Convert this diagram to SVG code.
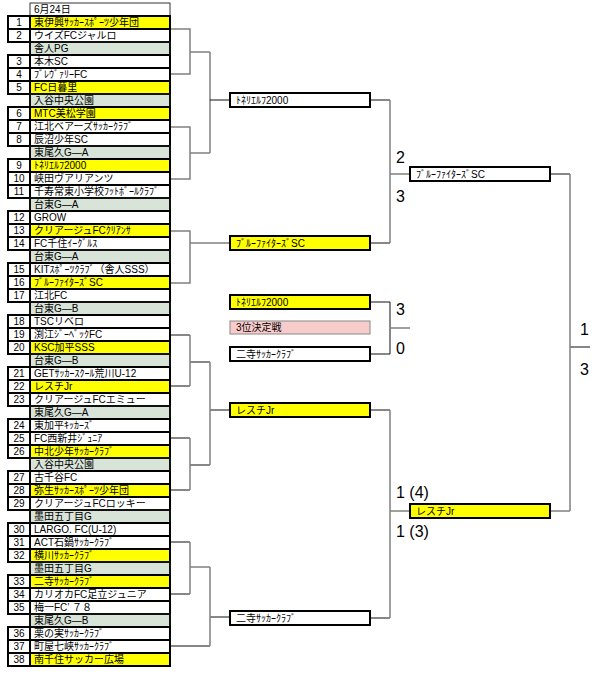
<svg xmlns="http://www.w3.org/2000/svg" width="600" height="674" viewBox="0 0 600 674">
<style>
.n{fill:#fff;stroke:#000;stroke-width:2}
.w{fill:#fff;stroke:#000;stroke-width:2}
.y{fill:#ffff00;stroke:#000;stroke-width:2}
.gr{fill:#d8e4d8;stroke:#111;stroke-width:2}
.hd{fill:#fff;stroke:#333;stroke-width:1}
.pk{fill:#f9cccc;stroke:#888;stroke-width:1}
text{font-family:"Liberation Sans","Noto Sans CJK JP",sans-serif;font-size:10px;fill:#000}
.num{text-anchor:middle}
.sc{font-family:"Liberation Sans",sans-serif;font-size:16px}
.lg{fill:none;stroke:#808080;stroke-width:1.5}
.lk{fill:none;stroke:#111;stroke-width:1}
</style>
<rect width="600" height="674" fill="#fff"/>
<g id="table">
<g id="hdr"><rect class="hd" x="30" y="3" width="140" height="13"/><text x="34" y="13">6月24日</text></g>
<g id="t1"><rect class="n" x="8" y="16" width="22" height="13"/><rect class="y" x="30" y="16" width="140" height="13"/><text class="num" x="19" y="26">1</text><text x="34" y="26">東伊興ｻｯｶｰｽﾎﾟｰﾂ少年団</text></g>
<g id="t2"><rect class="n" x="8" y="29" width="22" height="13"/><rect class="w" x="30" y="29" width="140" height="13"/><text class="num" x="19" y="39">2</text><text x="34" y="39">ウイズFCジャルロ</text></g>
<g id="g1"><rect class="gr" x="30" y="42" width="140" height="13"/><text x="34" y="52">舎人PG</text></g>
<g id="t3"><rect class="n" x="8" y="55" width="22" height="13"/><rect class="w" x="30" y="55" width="140" height="13"/><text class="num" x="19" y="65">3</text><text x="34" y="65">本木SC</text></g>
<g id="t4"><rect class="n" x="8" y="68" width="22" height="13"/><rect class="w" x="30" y="68" width="140" height="13"/><text class="num" x="19" y="78">4</text><text x="34" y="78">ﾌﾞﾚｳﾞｧﾘｰFC</text></g>
<g id="t5"><rect class="n" x="8" y="81" width="22" height="13"/><rect class="y" x="30" y="81" width="140" height="13"/><text class="num" x="19" y="91">5</text><text x="34" y="91">FC日暮里</text></g>
<g id="g2"><rect class="gr" x="30" y="94" width="140" height="13"/><text x="34" y="104">入谷中央公園</text></g>
<g id="t6"><rect class="n" x="8" y="107" width="22" height="13"/><rect class="y" x="30" y="107" width="140" height="13"/><text class="num" x="19" y="117">6</text><text x="34" y="117">MTC美松学園</text></g>
<g id="t7"><rect class="n" x="8" y="120" width="22" height="13"/><rect class="w" x="30" y="120" width="140" height="13"/><text class="num" x="19" y="130">7</text><text x="34" y="130">江北ベアーズｻｯｶｰｸﾗﾌﾞ</text></g>
<g id="t8"><rect class="n" x="8" y="133" width="22" height="13"/><rect class="w" x="30" y="133" width="140" height="13"/><text class="num" x="19" y="143">8</text><text x="34" y="143">辰沼少年SC</text></g>
<g id="g3"><rect class="gr" x="30" y="146" width="140" height="13"/><text x="34" y="156">東尾久G—A</text></g>
<g id="t9"><rect class="n" x="8" y="159" width="22" height="13"/><rect class="y" x="30" y="159" width="140" height="13"/><text class="num" x="19" y="169">9</text><text x="34" y="169">ﾄﾈﾘｴﾙﾌ2000</text></g>
<g id="t10"><rect class="n" x="8" y="172" width="22" height="13"/><rect class="w" x="30" y="172" width="140" height="13"/><text class="num" x="19" y="182">10</text><text x="34" y="182">峡田ヴアリアンツ</text></g>
<g id="t11"><rect class="n" x="8" y="185" width="22" height="13"/><rect class="w" x="30" y="185" width="140" height="13"/><text class="num" x="19" y="195">11</text><text x="34" y="195">千寿常東小学校ﾌｯﾄﾎﾞｰﾙｸﾗﾌﾞ</text></g>
<g id="g4"><rect class="gr" x="30" y="198" width="140" height="13"/><text x="34" y="208">台東G—A</text></g>
<g id="t12"><rect class="n" x="8" y="211" width="22" height="13"/><rect class="w" x="30" y="211" width="140" height="13"/><text class="num" x="19" y="221">12</text><text x="34" y="221">GROW</text></g>
<g id="t13"><rect class="n" x="8" y="224" width="22" height="13"/><rect class="y" x="30" y="224" width="140" height="13"/><text class="num" x="19" y="234">13</text><text x="34" y="234">クリアージュFCｸﾘｱﾝｻ</text></g>
<g id="t14"><rect class="n" x="8" y="237" width="22" height="13"/><rect class="w" x="30" y="237" width="140" height="13"/><text class="num" x="19" y="247">14</text><text x="34" y="247">FC千住ｲｰｸﾞﾙｽ</text></g>
<g id="g5"><rect class="gr" x="30" y="250" width="140" height="13"/><text x="34" y="260">台東G—A</text></g>
<g id="t15"><rect class="n" x="8" y="263" width="22" height="13"/><rect class="w" x="30" y="263" width="140" height="13"/><text class="num" x="19" y="273">15</text><text x="34" y="273">KITｽﾎﾟｰﾂｸﾗﾌﾞ（舎人SSS）</text></g>
<g id="t16"><rect class="n" x="8" y="276" width="22" height="13"/><rect class="y" x="30" y="276" width="140" height="13"/><text class="num" x="19" y="286">16</text><text x="34" y="286">ﾌﾞﾙｰﾌｧｲﾀｰｽﾞSC</text></g>
<g id="t17"><rect class="n" x="8" y="289" width="22" height="13"/><rect class="w" x="30" y="289" width="140" height="13"/><text class="num" x="19" y="299">17</text><text x="34" y="299">江北FC</text></g>
<g id="g6"><rect class="gr" x="30" y="302" width="140" height="13"/><text x="34" y="312">台東G—B</text></g>
<g id="t18"><rect class="n" x="8" y="315" width="22" height="13"/><rect class="w" x="30" y="315" width="140" height="13"/><text class="num" x="19" y="325">18</text><text x="34" y="325">TSCリベロ</text></g>
<g id="t19"><rect class="n" x="8" y="328" width="22" height="13"/><rect class="w" x="30" y="328" width="140" height="13"/><text class="num" x="19" y="338">19</text><text x="34" y="338">渕江ｼﾞｰﾍﾞｯｸFC</text></g>
<g id="t20"><rect class="n" x="8" y="341" width="22" height="13"/><rect class="y" x="30" y="341" width="140" height="13"/><text class="num" x="19" y="351">20</text><text x="34" y="351">KSC加平SSS</text></g>
<g id="g7"><rect class="gr" x="30" y="354" width="140" height="13"/><text x="34" y="364">台東G—B</text></g>
<g id="t21"><rect class="n" x="8" y="367" width="22" height="13"/><rect class="w" x="30" y="367" width="140" height="13"/><text class="num" x="19" y="377">21</text><text x="34" y="377">GETｻｯｶｰｽｸｰﾙ荒川U-12</text></g>
<g id="t22"><rect class="n" x="8" y="380" width="22" height="13"/><rect class="y" x="30" y="380" width="140" height="13"/><text class="num" x="19" y="390">22</text><text x="34" y="390">レスチJr</text></g>
<g id="t23"><rect class="n" x="8" y="393" width="22" height="13"/><rect class="w" x="30" y="393" width="140" height="13"/><text class="num" x="19" y="403">23</text><text x="34" y="403">クリアージュFCエミュー</text></g>
<g id="g8"><rect class="gr" x="30" y="406" width="140" height="13"/><text x="34" y="416">東尾久G—A</text></g>
<g id="t24"><rect class="n" x="8" y="419" width="22" height="13"/><rect class="w" x="30" y="419" width="140" height="13"/><text class="num" x="19" y="429">24</text><text x="34" y="429">東加平ｷｯｶｰｽﾞ</text></g>
<g id="t25"><rect class="n" x="8" y="432" width="22" height="13"/><rect class="w" x="30" y="432" width="140" height="13"/><text class="num" x="19" y="442">25</text><text x="34" y="442">FC西新井ｼﾞｭﾆｱ</text></g>
<g id="t26"><rect class="n" x="8" y="445" width="22" height="13"/><rect class="y" x="30" y="445" width="140" height="13"/><text class="num" x="19" y="455">26</text><text x="34" y="455">中北少年ｻｯｶｰｸﾗﾌﾞ</text></g>
<g id="g9"><rect class="gr" x="30" y="458" width="140" height="13"/><text x="34" y="468">入谷中央公園</text></g>
<g id="t27"><rect class="n" x="8" y="471" width="22" height="13"/><rect class="w" x="30" y="471" width="140" height="13"/><text class="num" x="19" y="481">27</text><text x="34" y="481">古千谷FC</text></g>
<g id="t28"><rect class="n" x="8" y="484" width="22" height="13"/><rect class="y" x="30" y="484" width="140" height="13"/><text class="num" x="19" y="494">28</text><text x="34" y="494">弥生ｻｯｶｰｽﾎﾟｰﾂ少年団</text></g>
<g id="t29"><rect class="n" x="8" y="497" width="22" height="13"/><rect class="w" x="30" y="497" width="140" height="13"/><text class="num" x="19" y="507">29</text><text x="34" y="507">クリアージュFCロッキー</text></g>
<g id="g10"><rect class="gr" x="30" y="510" width="140" height="13"/><text x="34" y="520">墨田五丁目G</text></g>
<g id="t30"><rect class="n" x="8" y="523" width="22" height="13"/><rect class="w" x="30" y="523" width="140" height="13"/><text class="num" x="19" y="533">30</text><text x="34" y="533">LARGO. FC(U-12)</text></g>
<g id="t31"><rect class="n" x="8" y="536" width="22" height="13"/><rect class="w" x="30" y="536" width="140" height="13"/><text class="num" x="19" y="546">31</text><text x="34" y="546">ACT石鍋ｻｯｶｰｸﾗﾌﾞ</text></g>
<g id="t32"><rect class="n" x="8" y="549" width="22" height="13"/><rect class="y" x="30" y="549" width="140" height="13"/><text class="num" x="19" y="559">32</text><text x="34" y="559">横川ｻｯｶｰｸﾗﾌﾞ</text></g>
<g id="g11"><rect class="gr" x="30" y="562" width="140" height="13"/><text x="34" y="572">墨田五丁目G</text></g>
<g id="t33"><rect class="n" x="8" y="575" width="22" height="13"/><rect class="y" x="30" y="575" width="140" height="13"/><text class="num" x="19" y="585">33</text><text x="34" y="585">二寺ｻｯｶｰｸﾗﾌﾞ</text></g>
<g id="t34"><rect class="n" x="8" y="588" width="22" height="13"/><rect class="w" x="30" y="588" width="140" height="13"/><text class="num" x="19" y="598">34</text><text x="34" y="598">カリオカFC足立ジュニア</text></g>
<g id="t35"><rect class="n" x="8" y="601" width="22" height="13"/><rect class="w" x="30" y="601" width="140" height="13"/><text class="num" x="19" y="611">35</text><text x="34" y="611">梅一FC’ ７８</text></g>
<g id="g12"><rect class="gr" x="30" y="614" width="140" height="13"/><text x="34" y="624">東尾久G—B</text></g>
<g id="t36"><rect class="n" x="8" y="627" width="22" height="13"/><rect class="w" x="30" y="627" width="140" height="13"/><text class="num" x="19" y="637">36</text><text x="34" y="637">栗の実ｻｯｶｰｸﾗﾌﾞ</text></g>
<g id="t37"><rect class="n" x="8" y="640" width="22" height="13"/><rect class="w" x="30" y="640" width="140" height="13"/><text class="num" x="19" y="650">37</text><text x="34" y="650">町屋七峡ｻｯｶｰｸﾗﾌﾞ</text></g>
<g id="t38"><rect class="n" x="8" y="653" width="22" height="13"/><rect class="y" x="30" y="653" width="140" height="13"/><text class="num" x="19" y="663">38</text><text x="34" y="663">南千住サッカー広場</text></g>
</g>
<g id="connectors">
<path class="lg" d="M171 29H190V74H171M190 52H210M171 127H190V179H171M190 153H210M210 52V153M171 231H190V283H171M190 243H230"/>
<path class="lk" d="M210 100H230"/>
<path class="lk" d="M171 335H190M171 386H190M190 362H210M171 438H190M171 490H190M190 465H210M210 410H230M171 542H190M171 594H190M171 646H210M210 617H230"/>
<path class="lg" d="M190 335V386M190 438V490M210 362V465M190 542V594M190 567H210M210 567V646"/>
<path class="lk" d="M370 100H390M370 243H390M370 302H390V354H370M370 410H390M370 618H390M550 174H570M570 347H590"/>
<path class="lg" d="M390 100V243M390 174H410M390 328H410M390 410V618M390 511H410M570 174V511M550 511H570"/>
</g>
<g id="r2a"><rect class="w" x="230" y="93" width="140" height="14"/><text x="236" y="104">ﾄﾈﾘｴﾙﾌ2000</text></g>
<g id="r2b"><rect class="y" x="230" y="236" width="140" height="14"/><text x="236" y="247">ﾌﾞﾙｰﾌｧｲﾀｰｽﾞSC</text></g>
<g id="p3a"><rect class="y" x="230" y="295" width="140" height="14"/><text x="236" y="306">ﾄﾈﾘｴﾙﾌ2000</text></g>
<g id="p3lbl"><rect class="pk" x="230" y="321" width="140" height="13"/><text x="236" y="331">3位決定戦</text></g>
<g id="p3b"><rect class="w" x="230" y="347" width="140" height="14"/><text x="236" y="358">二寺ｻｯｶｰｸﾗﾌﾞ</text></g>
<g id="r2c"><rect class="y" x="230" y="403" width="140" height="14"/><text x="236" y="414">レスチJr</text></g>
<g id="r2d"><rect class="w" x="230" y="611" width="140" height="14"/><text x="236" y="622">二寺ｻｯｶｰｸﾗﾌﾞ</text></g>
<g id="f1"><rect class="w" x="410" y="167" width="140" height="14"/><text x="416" y="178">ﾌﾞﾙｰﾌｧｲﾀｰｽﾞSC</text></g>
<g id="f2"><rect class="y" x="410" y="504" width="140" height="14"/><text x="416" y="515">レスチJr</text></g>
<g id="scores">
<text class="sc" x="396" y="163">2</text>
<text class="sc" x="396" y="202">3</text>
<text class="sc" x="396" y="315">3</text>
<text class="sc" x="396" y="354">0</text>
<text class="sc" x="396" y="498">1 (4)</text>
<text class="sc" x="396" y="537">1 (3)</text>
<text class="sc" x="580" y="335">1</text>
<text class="sc" x="580" y="375">3</text>
</g>
</svg>
